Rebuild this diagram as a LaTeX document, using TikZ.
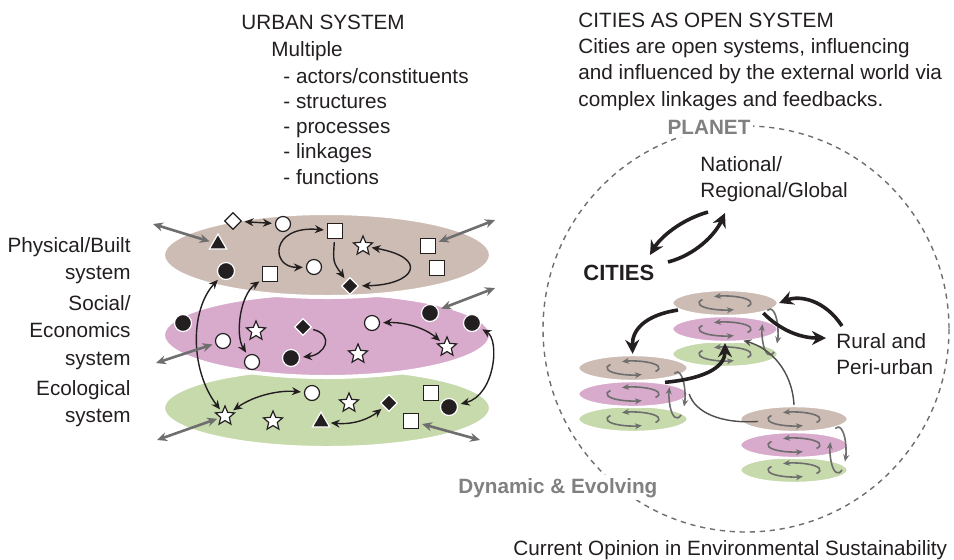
\documentclass[tikz,border=0pt]{standalone}
\usepackage{fontspec}
\setmainfont{Liberation Sans}
\usetikzlibrary{shapes.geometric,arrows.meta,calc}
\definecolor{inkc}{RGB}{35,31,32}
\definecolor{builtc}{RGB}{205,188,180}
\definecolor{socialc}{RGB}{216,170,204}
\definecolor{ecoc}{RGB}{199,218,172}
\definecolor{linkc}{RGB}{110,110,110}
\definecolor{labelc}{RGB}{128,128,128}
\begin{document}
\begin{tikzpicture}[x=0.5pt,y=-0.5pt,
    every node/.style={text=inkc,inner sep=0pt,font=\fontsize{10.35}{12.5}\selectfont},
    layer/.style={ellipse,draw=white,line width=2pt,inner sep=0pt},
    citylayer/.style={ellipse,draw=white,line width=1.2pt,inner sep=0pt,minimum height=13pt},
    wcirc/.style={circle,draw=inkc,fill=white,line width=0.6pt,minimum size=7.5pt,inner sep=0pt},
    bcirc/.style={circle,draw=white,fill=inkc,line width=0.6pt,minimum size=8.5pt,inner sep=0pt},
    wsq/.style={rectangle,draw=inkc,fill=white,line width=0.6pt,minimum size=7.5pt,inner sep=0pt},
    wstar/.style={star,star points=5,star point ratio=2.2,draw=inkc,fill=white,line width=0.6pt,minimum size=10pt,inner sep=0pt},
    btri/.style={regular polygon,regular polygon sides=3,draw=white,fill=inkc,line width=0.6pt,minimum size=10pt,inner sep=0pt},
    bdia/.style={diamond,draw=white,fill=inkc,line width=0.6pt,minimum size=8.5pt,inner sep=0pt},
    wdia/.style={diamond,draw=inkc,fill=white,line width=0.6pt,minimum size=8.5pt,inner sep=0pt},
    link/.style={inkc,line width=0.7pt,{Stealth[length=4.5pt,width=4pt]}-{Stealth[length=4.5pt,width=4pt]},shorten <=1.5pt,shorten >=1.5pt},
    flow/.style={inkc,line width=0.7pt,-{Stealth[length=4.5pt,width=4pt]},shorten <=1.5pt,shorten >=1.5pt},
    ext/.style={linkc,line width=1.3pt,{Stealth[length=5pt,width=4.5pt]}-{Stealth[length=5pt,width=4.5pt]},shorten <=1.5pt},
    bigflow/.style={inkc,line width=1.8pt,-{Stealth[length=7pt,width=7pt]}},
    thinflow/.style={inkc!80!white,line width=0.7pt,-{Stealth[length=4pt,width=3.5pt]}},
    spin/.style={linkc,line width=0.8pt,-{Stealth[length=3.5pt,width=3pt]}}]
\useasboundingbox (0,0) rectangle (954,559);

\node [anchor=base west] (urban) at (241,29) {URBAN SYSTEM};
\node [anchor=base west] (multiple) at (271,56) {Multiple};
\node [anchor=base west,align=left,font=\fontsize{10.35}{12.6}\selectfont] (aspects) at (283,184) {- actors/constituents\\- structures\\- processes\\- linkages\\- functions};
\node [anchor=base west,align=left,font=\fontsize{10.35}{13.1}\selectfont] (open) at (578,106) {CITIES AS OPEN SYSTEM\\Cities are open systems, influencing\\and influenced by the external world via\\complex linkages and feedbacks.};

\node [anchor=base east,align=right,font=\fontsize{10.35}{13.5}\selectfont] (physlabel) at (131,279) {Physical/Built\\system};
\node [anchor=base east,align=right,font=\fontsize{10.35}{13.6}\selectfont] (sociallabel) at (131,365) {Social/\\Economics\\system};
\node [anchor=base east,align=right,font=\fontsize{10.35}{13.2}\selectfont] (ecolabel) at (131,422) {Ecological\\system};

\node [layer,fill=ecoc,minimum width=164pt,minimum height=40pt] (ecoLayer) at (327,408) {};
\node [layer,fill=socialc,minimum width=164pt,minimum height=42pt] (socialLayer) at (327,335) {};
\node [layer,fill=builtc,minimum width=164pt,minimum height=42pt] (builtLayer) at (327,255) {};

\node [wdia] (pWDia) at (233,221) {};
\node [btri] (pTri) at (218,244) {};
\node [wcirc] (pWC1) at (283,224) {};
\node [wsq] (pSq1) at (335,231) {};
\node [wstar] (pStar) at (363,246) {};
\node [wsq] (pSq2) at (428,246) {};
\node [bcirc] (pBC) at (226,271) {};
\node [wsq] (pSq3) at (270,274) {};
\node [wcirc] (pWC2) at (314,267) {};
\node [bdia] (pBDia) at (350,286) {};
\node [wsq] (pSq4) at (437,268) {};

\node [bcirc] (sBC1) at (183,323) {};
\node [wstar] (sStar1) at (256,331) {};
\node [bdia] (sBDia) at (303,327) {};
\node [wcirc] (sWC1) at (372,323) {};
\node [bcirc] (sBC2) at (430,313) {};
\node [bcirc] (sBC3) at (472,323) {};
\node [wcirc] (sWC2) at (223,341) {};
\node [wcirc] (sWC3) at (252,362) {};
\node [bcirc] (sBC4) at (291,358) {};
\node [wstar] (sStar2) at (358,354) {};
\node [wstar] (sStar3) at (447,347) {};

\node [wstar] (eStar1) at (225,416) {};
\node [wstar] (eStar2) at (273,421) {};
\node [wcirc] (eWC) at (312,393) {};
\node [wstar] (eStar3) at (349,403) {};
\node [btri] (eTri) at (321,422) {};
\node [bdia] (eBDia) at (389,403) {};
\node [wsq] (eSq1) at (431,393) {};
\node [bcirc] (eBC) at (449,407) {};
\node [wsq] (eSq2) at (411,421) {};

\coordinate (pOutL) at (153,224);
\coordinate (pOutR) at (495,220);
\coordinate (sOutL) at (156,363);
\coordinate (sOutR) at (495,288);
\coordinate (eOutL) at (157,440);
\coordinate (eOutR) at (480,440);

\draw [link] (pWDia) -- (pWC1);
\draw [link] (pSq1) .. controls (270,225) and (270,268) .. (pWC2);
\draw [flow] (pSq1) .. controls (333,262) .. (pBDia);
\draw [link] (pStar) .. controls (430,258) and (415,285) .. (pBDia);
\draw [link] (pBC) .. controls (190,310) and (190,370) .. (eStar1);
\draw [link] (pSq3) .. controls (240,295) and (235,335) .. (sWC3);
\draw [flow] (sBDia) .. controls (335,335) and (325,355) .. (sBC4);
\draw [link] (sWC1) .. controls (405,322) and (425,328) .. (sStar3);
\draw [link] (sBC3) .. controls (500,340) and (495,395) .. (eBC);
\draw [link] (eStar1) .. controls (255,395) and (280,390) .. (eWC);
\draw [link] (eTri) .. controls (355,425) and (370,418) .. (eBDia);
\draw [ext] (pTri) -- (pOutL);
\draw [ext] (pSq2) -- (pOutR);
\draw [ext] (sWC2) -- (sOutL);
\draw [ext] (sBC2) -- (sOutR);
\draw [ext] (eStar1) -- (eOutL);
\draw [ext] (eSq2) -- (eOutR);

\draw [linkc,line width=0.7pt,dash pattern=on 2.6pt off 2.4pt] (746,329) circle [radius=203];
\node [anchor=base,fill=white,inner sep=1.5pt,text=labelc,font=\fontsize{10.35}{12.5}\selectfont\bfseries] (planet) at (709,134) {PLANET};
\node [anchor=base west,fill=white,inner sep=1.5pt,text=labelc,font=\fontsize{10.35}{12.5}\selectfont\bfseries] (dynamic) at (455,493) {Dynamic \& Evolving};

\node [anchor=base west,align=left,font=\fontsize{10.35}{12.6}\selectfont] (natl) at (700,197) {National/\\Regional/Global};
\node [anchor=base west,font=\fontsize{11}{13}\selectfont\bfseries] (cities) at (583,280) {CITIES};
\node [anchor=base west,align=left,font=\fontsize{10.35}{12.6}\selectfont] (rural) at (836,374) {Rural and\\Peri-urban};

\foreach \s/\x/\y/\w in {a/725/303/53, b/633/368/55, c/794/419/54} {
  \node [citylayer,fill=ecoc,minimum width=\w pt] (\s-low) at (\x,\y+51) {};
  \node [citylayer,fill=socialc,minimum width=\w pt] (\s-mid) at (\x,\y+26) {};
  \node [citylayer,fill=builtc,minimum width=\w pt] (\s-top) at (\x,\y) {};
  \foreach \l in {top,mid,low} {
    \draw [spin] ($(\s-\l)+(30:26 and 7)$) arc [start angle=30,end angle=-115,x radius=26,y radius=7];
    \draw [spin] ($(\s-\l)+(-150:26 and 7)$) arc [start angle=-150,end angle=-290,x radius=26,y radius=7];
  }
}
\foreach \x/\y in {770/332, 677/395, 838/450} {
  \draw [spin] ($(\x,\y)+(-110:8 and 23)$) arc [start angle=-110,end angle=30,x radius=8,y radius=23];
  \draw [spin] ($(\x,\y)+(60:8 and 23)$) arc [start angle=60,end angle=200,x radius=8,y radius=23];
}

\coordinate (natlOut) at (708,212);
\coordinate (natlIn) at (725,213);
\coordinate (citiesIn) at (650,255);
\coordinate (citiesOut) at (668,262);
\coordinate (ruralIn) at (826,338);
\coordinate (ruralOut) at (842,326);

\draw [bigflow] (natlOut) .. controls (680,220) and (660,238) .. (citiesIn);
\draw [bigflow] (citiesOut) .. controls (695,255) and (715,235) .. (natlIn);
\draw [bigflow] (a-top) .. controls (645,315) and (632,330) .. (b-top);
\draw [bigflow] (b-mid.20) .. controls (710,378) and (725,365) .. (a-mid.south);
\draw [bigflow] (ruralOut) .. controls (825,300) and (800,295) .. (a-top.east);
\draw [bigflow] (a-top.south east) .. controls (780,330) and (800,338) .. (ruralIn);
\draw [thinflow] (c-top.north) .. controls (792,370) and (770,348) .. (a-low.36);
\draw [inkc!80!white,line width=0.7pt,shorten <=18pt] (c-top.center) .. controls (720,424) and (695,412) .. (b-mid.east);

\node [anchor=base west] (source) at (513,555) {Current Opinion in Environmental Sustainability};
\end{tikzpicture}
\end{document}
